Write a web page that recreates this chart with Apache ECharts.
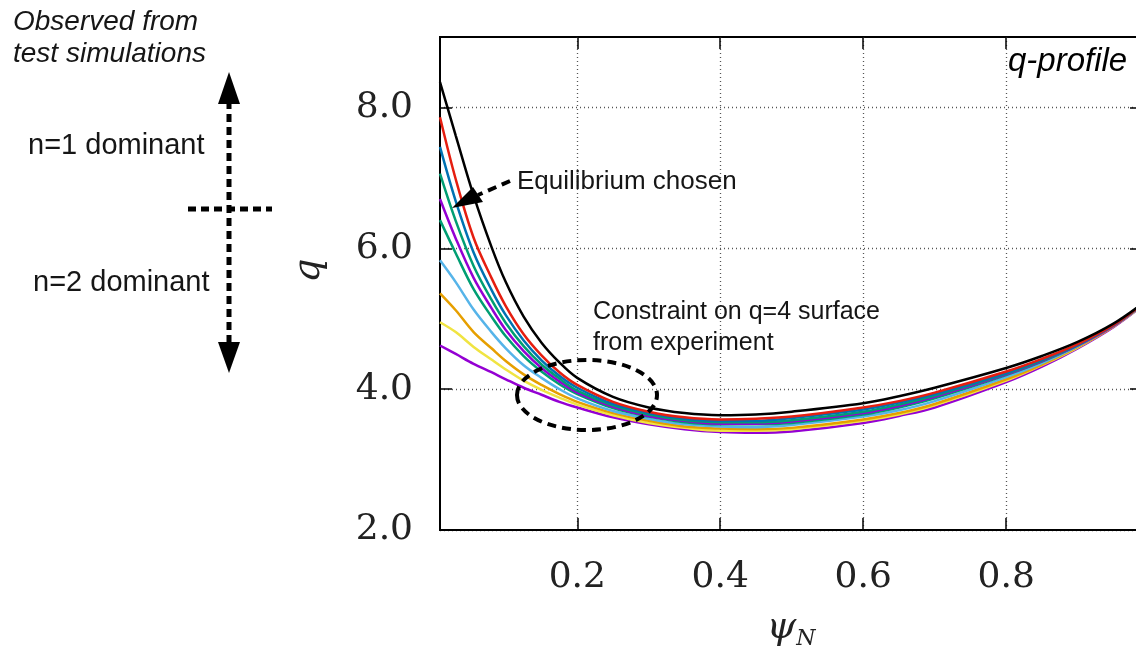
<!DOCTYPE html>
<html>
<head>
<meta charset="utf-8">
<script src="https://cdn.jsdelivr.net/npm/echarts@6/dist/echarts.min.js"></script>
<style>
html,body{margin:0;padding:0;background:#fff;}
#chart{width:1136px;height:647px;}
</style>
</head>
<body>
<div id="chart"></div>
<script>
// ---- data ----
const psi = [0.008, 0.03, 0.055, 0.08, 0.1, 0.125, 0.15, 0.175, 0.2, 0.25, 0.3, 0.35, 0.4, 0.45, 0.5, 0.6, 0.65, 0.7, 0.8, 0.85, 0.9, 0.95, 0.99];
const qBlack   = [8.36, 7.60, 6.75, 6.02, 5.52, 5.03, 4.66, 4.38, 4.16, 3.89, 3.74, 3.66, 3.63, 3.64, 3.68, 3.80, 3.90, 4.02, 4.30, 4.47, 4.67, 4.93, 5.21];
const qRed     = [7.86, 6.98, 6.15, 5.58, 5.18, 4.78, 4.48, 4.24, 4.06, 3.82, 3.68, 3.60, 3.57, 3.58, 3.61, 3.74, 3.83, 3.95, 4.25, 4.43, 4.64, 4.91, 5.20];
const qBlue    = [7.44, 6.67, 5.94, 5.41, 5.05, 4.69, 4.41, 4.19, 4.02, 3.79, 3.66, 3.58, 3.55, 3.55, 3.59, 3.71, 3.81, 3.93, 4.23, 4.42, 4.63, 4.91, 5.20];
const qGreen1  = [7.06, 6.39, 5.75, 5.27, 4.94, 4.61, 4.35, 4.15, 3.98, 3.77, 3.64, 3.56, 3.53, 3.53, 3.56, 3.68, 3.78, 3.91, 4.22, 4.41, 4.63, 4.91, 5.20];
const qPurple2 = [6.70, 6.14, 5.58, 5.15, 4.84, 4.54, 4.30, 4.11, 3.95, 3.75, 3.62, 3.55, 3.51, 3.51, 3.54, 3.66, 3.76, 3.89, 4.21, 4.40, 4.62, 4.90, 5.20];
const qGreen2  = [6.40, 5.93, 5.42, 5.03, 4.75, 4.47, 4.25, 4.07, 3.93, 3.73, 3.61, 3.53, 3.50, 3.50, 3.52, 3.64, 3.74, 3.87, 4.20, 4.39, 4.62, 4.90, 5.20];
const qSky     = [5.83, 5.52, 5.13, 4.81, 4.58, 4.34, 4.16, 4.00, 3.87, 3.69, 3.58, 3.50, 3.47, 3.46, 3.49, 3.61, 3.70, 3.83, 4.17, 4.37, 4.61, 4.90, 5.19];
const qOrange  = [5.36, 5.12, 4.81, 4.58, 4.40, 4.21, 4.06, 3.93, 3.82, 3.66, 3.55, 3.47, 3.44, 3.43, 3.45, 3.57, 3.66, 3.79, 4.14, 4.35, 4.60, 4.89, 5.19];
const qYellow  = [4.95, 4.81, 4.60, 4.42, 4.28, 4.12, 3.99, 3.88, 3.78, 3.63, 3.52, 3.45, 3.41, 3.41, 3.43, 3.55, 3.64, 3.77, 4.12, 4.34, 4.59, 4.89, 5.18];
const qPurple1 = [4.62, 4.50, 4.36, 4.24, 4.14, 4.02, 3.92, 3.82, 3.74, 3.60, 3.50, 3.43, 3.39, 3.38, 3.40, 3.52, 3.62, 3.74, 4.10, 4.32, 4.58, 4.88, 5.18];

const xTicks = [0.2, 0.4, 0.6, 0.8];
const yTicks = [2, 4, 6, 8];

const curves = [
  {name: 'c1', color: '#9400D3', q: qPurple1},
  {name: 'c2', color: '#F0E442', q: qYellow},
  {name: 'c3', color: '#E69F00', q: qOrange},
  {name: 'c4', color: '#56B4E9', q: qSky},
  {name: 'c5', color: '#009E73', q: qGreen2},
  {name: 'c6', color: '#9400D3', q: qPurple2},
  {name: 'c7', color: '#009E73', q: qGreen1},
  {name: 'c8', color: '#0072B2', q: qBlue},
  {name: 'c9', color: '#E51E10', q: qRed},
  {name: 'c10', color: '#000000', q: qBlack}
];

const serifFont = 'DejaVu Serif';
const txtColor = '#161616';

const chart = echarts.init(document.getElementById('chart'), null, {renderer: 'canvas'});

const series = curves.map(c => ({
  name: c.name,
  type: 'line',
  xAxisIndex: 0, yAxisIndex: 0,
  data: psi.map((p, i) => [p, c.q[i]]),
  smooth: 0.35,
  showSymbol: false,
  lineStyle: {color: c.color, width: 2.5},
  itemStyle: {color: c.color},
  z: 3
}));

const dashStyle = {stroke: '#000', lineWidth: 5, lineDash: [8, 5], fill: null};

const option = {
  backgroundColor: '#fff',
  animation: false,
  grid: {
    left: 440, right: -6, top: 37, bottom: 117,
    show: true, borderColor: '#000', borderWidth: 2,
    outerBoundsMode: 'none', containLabel: false
  },
  xAxis: [{
    type: 'value', min: 0.008, max: 0.99,
    position: 'bottom',
    axisLine: {show: true, onZero: false, lineStyle: {color: '#000', width: 2}},
    axisTick: {show: true, inside: true, length: 12, customValues: xTicks, lineStyle: {color: '#000', width: 1.5}},
    axisLabel: {show: true, customValues: xTicks, margin: 30, fontFamily: serifFont, fontSize: 36, color: '#222',
      formatter: v => v.toFixed(1)},
    splitLine: {show: true, lineStyle: {color: '#555', width: 1.3, type: [1, 3]}},
    name: '{p|ψ}{n|N}',
    nameLocation: 'middle',
    nameGap: 76,
    nameTextStyle: {
      rich: {
        p: {fontFamily: serifFont, fontStyle: 'italic', fontSize: 38, color: '#222'},
        n: {fontFamily: serifFont, fontStyle: 'italic', fontSize: 22, color: '#222', padding: [22, 0, 0, 0]}
      }
    }
  }, {
    type: 'value', min: 0.008, max: 0.99,
    position: 'top',
    axisLine: {show: false},
    axisTick: {show: true, inside: true, length: 12, customValues: xTicks, lineStyle: {color: '#000', width: 1.5}},
    axisLabel: {show: false},
    splitLine: {show: false}
  }],
  yAxis: [{
    type: 'value', min: 2, max: 9,
    position: 'left',
    axisLine: {show: true, onZero: false, lineStyle: {color: '#000', width: 2}},
    axisTick: {show: true, inside: true, length: 12, customValues: yTicks, lineStyle: {color: '#000', width: 1.5}},
    axisLabel: {show: true, customValues: yTicks, margin: 27, fontFamily: serifFont, fontSize: 36, color: '#222',
      formatter: v => v.toFixed(1)},
    splitLine: {show: true, lineStyle: {color: '#555', width: 1.3, type: [1, 3]}},
    name: 'q',
    nameLocation: 'middle',
    nameRotate: 90,
    nameGap: 112,
    nameTextStyle: {fontFamily: serifFont, fontStyle: 'italic', fontSize: 38, color: '#222', padding: [0, 0, 0, 26]}
  }, {
    type: 'value', min: 2, max: 9,
    position: 'right',
    axisLine: {show: false},
    axisTick: {show: true, inside: true, length: 12, customValues: yTicks, lineStyle: {color: '#000', width: 1.5}},
    axisLabel: {show: false},
    splitLine: {show: false}
  }],
  series: series,
  graphic: [
    // left annotation texts
    {type: 'text', left: 13, top: 8, z: 10, style: {text: 'Observed from', font: 'italic 28px "Liberation Sans"', fill: txtColor}},
    {type: 'text', left: 13, top: 40, z: 10, style: {text: 'test simulations', font: 'italic 28px "Liberation Sans"', fill: txtColor}},
    {type: 'text', left: 28, top: 131, z: 10, style: {text: 'n=1 dominant', font: '29px "Liberation Sans"', fill: txtColor}},
    {type: 'text', left: 33, top: 268, z: 10, style: {text: 'n=2 dominant', font: '29px "Liberation Sans"', fill: txtColor}},
    // vertical dashed double arrow
    {type: 'line', z: 10, shape: {x1: 229, y1: 101, x2: 229, y2: 345}, style: dashStyle},
    {type: 'polygon', z: 10, shape: {points: [[229, 72], [218, 104], [240, 104]]}, style: {fill: '#000'}},
    {type: 'polygon', z: 10, shape: {points: [[229, 373], [218, 342], [240, 342]]}, style: {fill: '#000'}},
    // horizontal dashed line
    {type: 'line', z: 10, shape: {x1: 188, y1: 209, x2: 272, y2: 209}, style: dashStyle},
    // Equilibrium chosen arrow
    {type: 'line', z: 10, shape: {x1: 510, y1: 181, x2: 478, y2: 195}, style: {stroke: '#000', lineWidth: 4, lineDash: [9, 6]}},
    {type: 'polygon', z: 10, shape: {points: [[452, 208], [473, 187], [483, 202]]}, style: {fill: '#000'}},
    {type: 'text', left: 517, top: 169, z: 10, style: {text: 'Equilibrium chosen', font: '26px "Liberation Sans"', fill: txtColor}},
    // constraint ellipse
    {type: 'ellipse', z: 10, shape: {cx: 587, cy: 395, rx: 70, ry: 35}, style: {fill: null, stroke: '#000', lineWidth: 4, lineDash: [9, 6]}},
    {type: 'text', left: 593, top: 300, z: 10, style: {text: 'Constraint on q=4 surface', font: '25px "Liberation Sans"', fill: txtColor}},
    {type: 'text', left: 593, top: 331, z: 10, style: {text: 'from experiment', font: '25px "Liberation Sans"', fill: txtColor}},
    // q-profile label
    {type: 'text', left: 1008, top: 45, z: 10, style: {text: 'q-profile', font: 'italic 33px "Liberation Sans"', fill: '#000'}}
  ]
};

chart.setOption(option);
</script>
</body>
</html>
